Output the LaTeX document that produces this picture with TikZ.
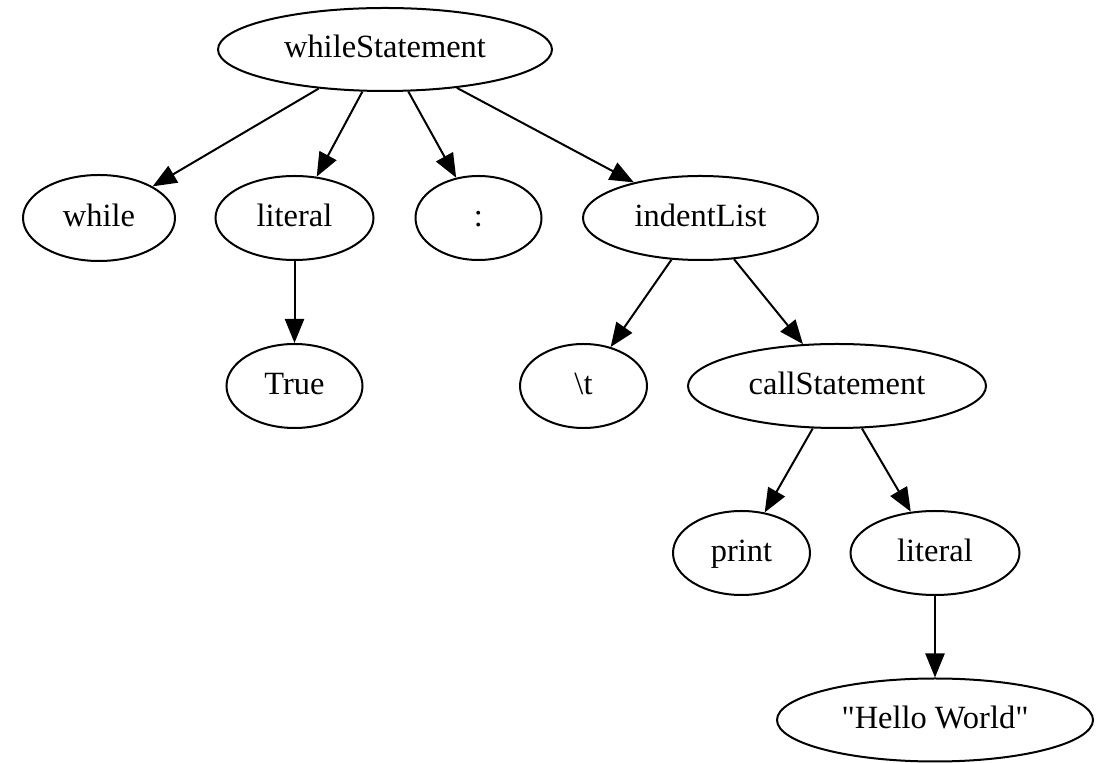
\documentclass[tikz,border=0pt]{standalone}
\usepackage{fontspec}
\setmainfont{Liberation Serif}[Ligatures=TeXOff]
\usetikzlibrary{shapes.geometric,arrows.meta}

\tikzset{
  tnode/.style 2 args={ellipse, draw, line width=0.9pt, inner sep=0pt,
    minimum width=#1*0.9pt, minimum height=#2*0.9pt,
    font=\fontsize{14.6pt}{17pt}\selectfont, text height=0.76em, text depth=0pt},
  edge/.style={line width=0.9pt, -{Triangle[length=10.8pt,width=8.6pt]}}
}
\newcommand{\lbl}[1]{\makebox[0pt]{#1}}

\begin{document}
\begin{tikzpicture}[x=0.45pt, y=-0.45pt]
  \useasboundingbox[fill=white] (0,0) rectangle (1099,763);

  % parse tree nodes, one row per level
  \node[tnode={167}{41.5}] (ws)    at (385,49.5)  {\lbl{whileStatement}};

  \node[tnode={76}{43}]    (wh)    at (99,218)    {\lbl{while}};
  \node[tnode={79}{42}]    (lit1)  at (294.5,218) {\lbl{literal}};
  \node[tnode={63}{42}]    (colon) at (478.5,218) {\lbl{:}};
  \node[tnode={117.5}{42}] (ind)   at (700.5,218) {\lbl{indentList}};

  \node[tnode={68}{42}]    (tru)   at (294.5,386) {\lbl{True}};
  \node[tnode={63.5}{42}]  (tab)   at (583.5,386) {\lbl{\textbackslash t}};
  \node[tnode={149}{42}]   (call)  at (837,386)   {\lbl{callStatement}};

  \node[tnode={68.5}{42}]  (prn)   at (741.5,553) {\lbl{print}};
  \node[tnode={84.5}{42}]  (lit2)  at (935,553)   {\lbl{literal}};

  \node[tnode={158}{41.5}] (hello) at (935,720)   {\lbl{"Hello World"}};

  % parent -> child edges
  \draw[edge] (ws) -- (wh);
  \draw[edge] (ws) -- (lit1);
  \draw[edge] (ws) -- (colon);
  \draw[edge] (ws) -- (ind);
  \draw[edge] (lit1) -- (tru);
  \draw[edge] (ind) -- (tab);
  \draw[edge] (ind) -- (call);
  \draw[edge] (call) -- (prn);
  \draw[edge] (call) -- (lit2);
  \draw[edge] (lit2) -- (hello);
\end{tikzpicture}
\end{document}
